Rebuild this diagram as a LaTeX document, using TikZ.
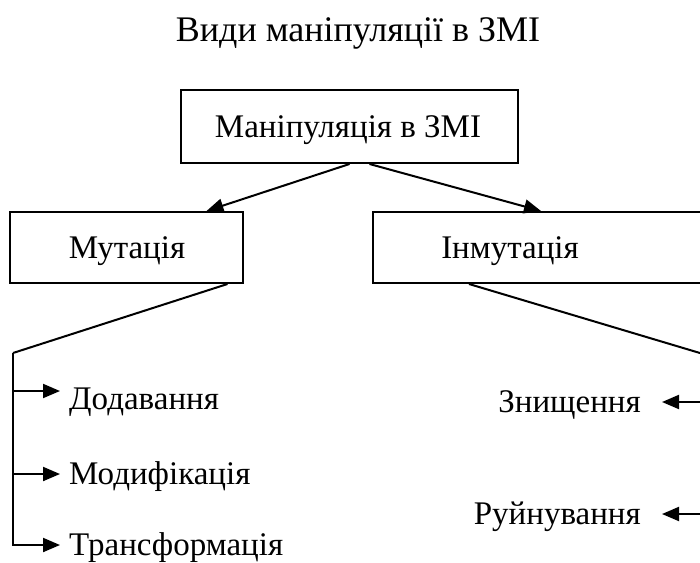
\documentclass[tikz,border=0pt]{standalone}
\usepackage{fontspec}
\setmainfont{Liberation Serif}
\usetikzlibrary{arrows.meta, calc, positioning}

\tikzset{
  box/.style={draw, line width=2pt, inner sep=0pt},
  txt/.style={font=\fontsize{33}{37}\selectfont, text height=21.8pt, text depth=0pt, inner sep=0pt},
  litem/.style={txt, anchor=west, inner xsep=9pt},
  ritem/.style={txt, anchor=east, inner xsep=21pt},
  link/.style={line width=2pt},
  arr/.style={line width=2pt, -{Triangle[length=17pt,width=14pt]}}
}

\begin{document}
\begin{tikzpicture}[x=1pt, y=-1pt]
  \useasboundingbox (0,0) rectangle (700,562);
  \clip (0,0) rectangle (700,562);

  % title
  \node[txt, font=\fontsize{36}{40}\selectfont, text height=23.8pt] (title) at (358,30) {Види маніпуляції в ЗМІ};

  % boxes
  \node[box, minimum width=337pt, minimum height=73pt] (manip) at (349.5,126.5) {};
  \node[txt] (maniplbl) at (348,127) {Маніпуляція в ЗМІ};
  \node[box, minimum width=233pt, minimum height=71pt] (mut) at (126.5,247.5) {};
  \node[txt] (mutlbl) at (127,248) {Мутація};
  \node[box, minimum width=357pt, minimum height=71pt] (inmut) at (551.5,247.5) {};
  \node[txt] (inmutlbl) at (510,248) {Інмутація};

  \draw[arr] (manip.south) -- ($(mut.north)+(80,0)$);
  \draw[arr] ($(manip.south)+(20,0)$) -- ($(inmut.north west)+(169,0)$);

  % Mutation branch
  \coordinate (mutbend) at (13,353);
  \node[litem] (add) at (60,399) {Додавання};
  \node[litem] (modif) at (60,474) {Модифікація};
  \node[litem] (transf) at (60,545) {Трансформація};
  \coordinate (addtip) at ([yshift=8pt]add.west);
  \draw[link] ($(mut.south)+(101,0)$) -- (mutbend);
  \draw[arr] (mutbend) |- (transf.west);
  \draw[arr] (mutbend |- addtip) -- (addtip);
  \draw[arr] (mutbend |- modif.west) -- (modif.west);

  % Inmutation branch
  \coordinate (inmutbend) at (720,359);
  \node[ritem] (destr) at (662,402) {Знищення};
  \node[ritem] (ruin) at (662,514) {Руйнування};
  \draw[link] ($(inmut.south west)+(97,0)$) -- (inmutbend);
  \draw[link] (inmutbend) -- (inmutbend |- ruin.east);
  \draw[arr] (inmutbend |- destr.east) -- (destr.east);
  \draw[arr] (inmutbend |- ruin.east) -- (ruin.east);
\end{tikzpicture}
\end{document}
